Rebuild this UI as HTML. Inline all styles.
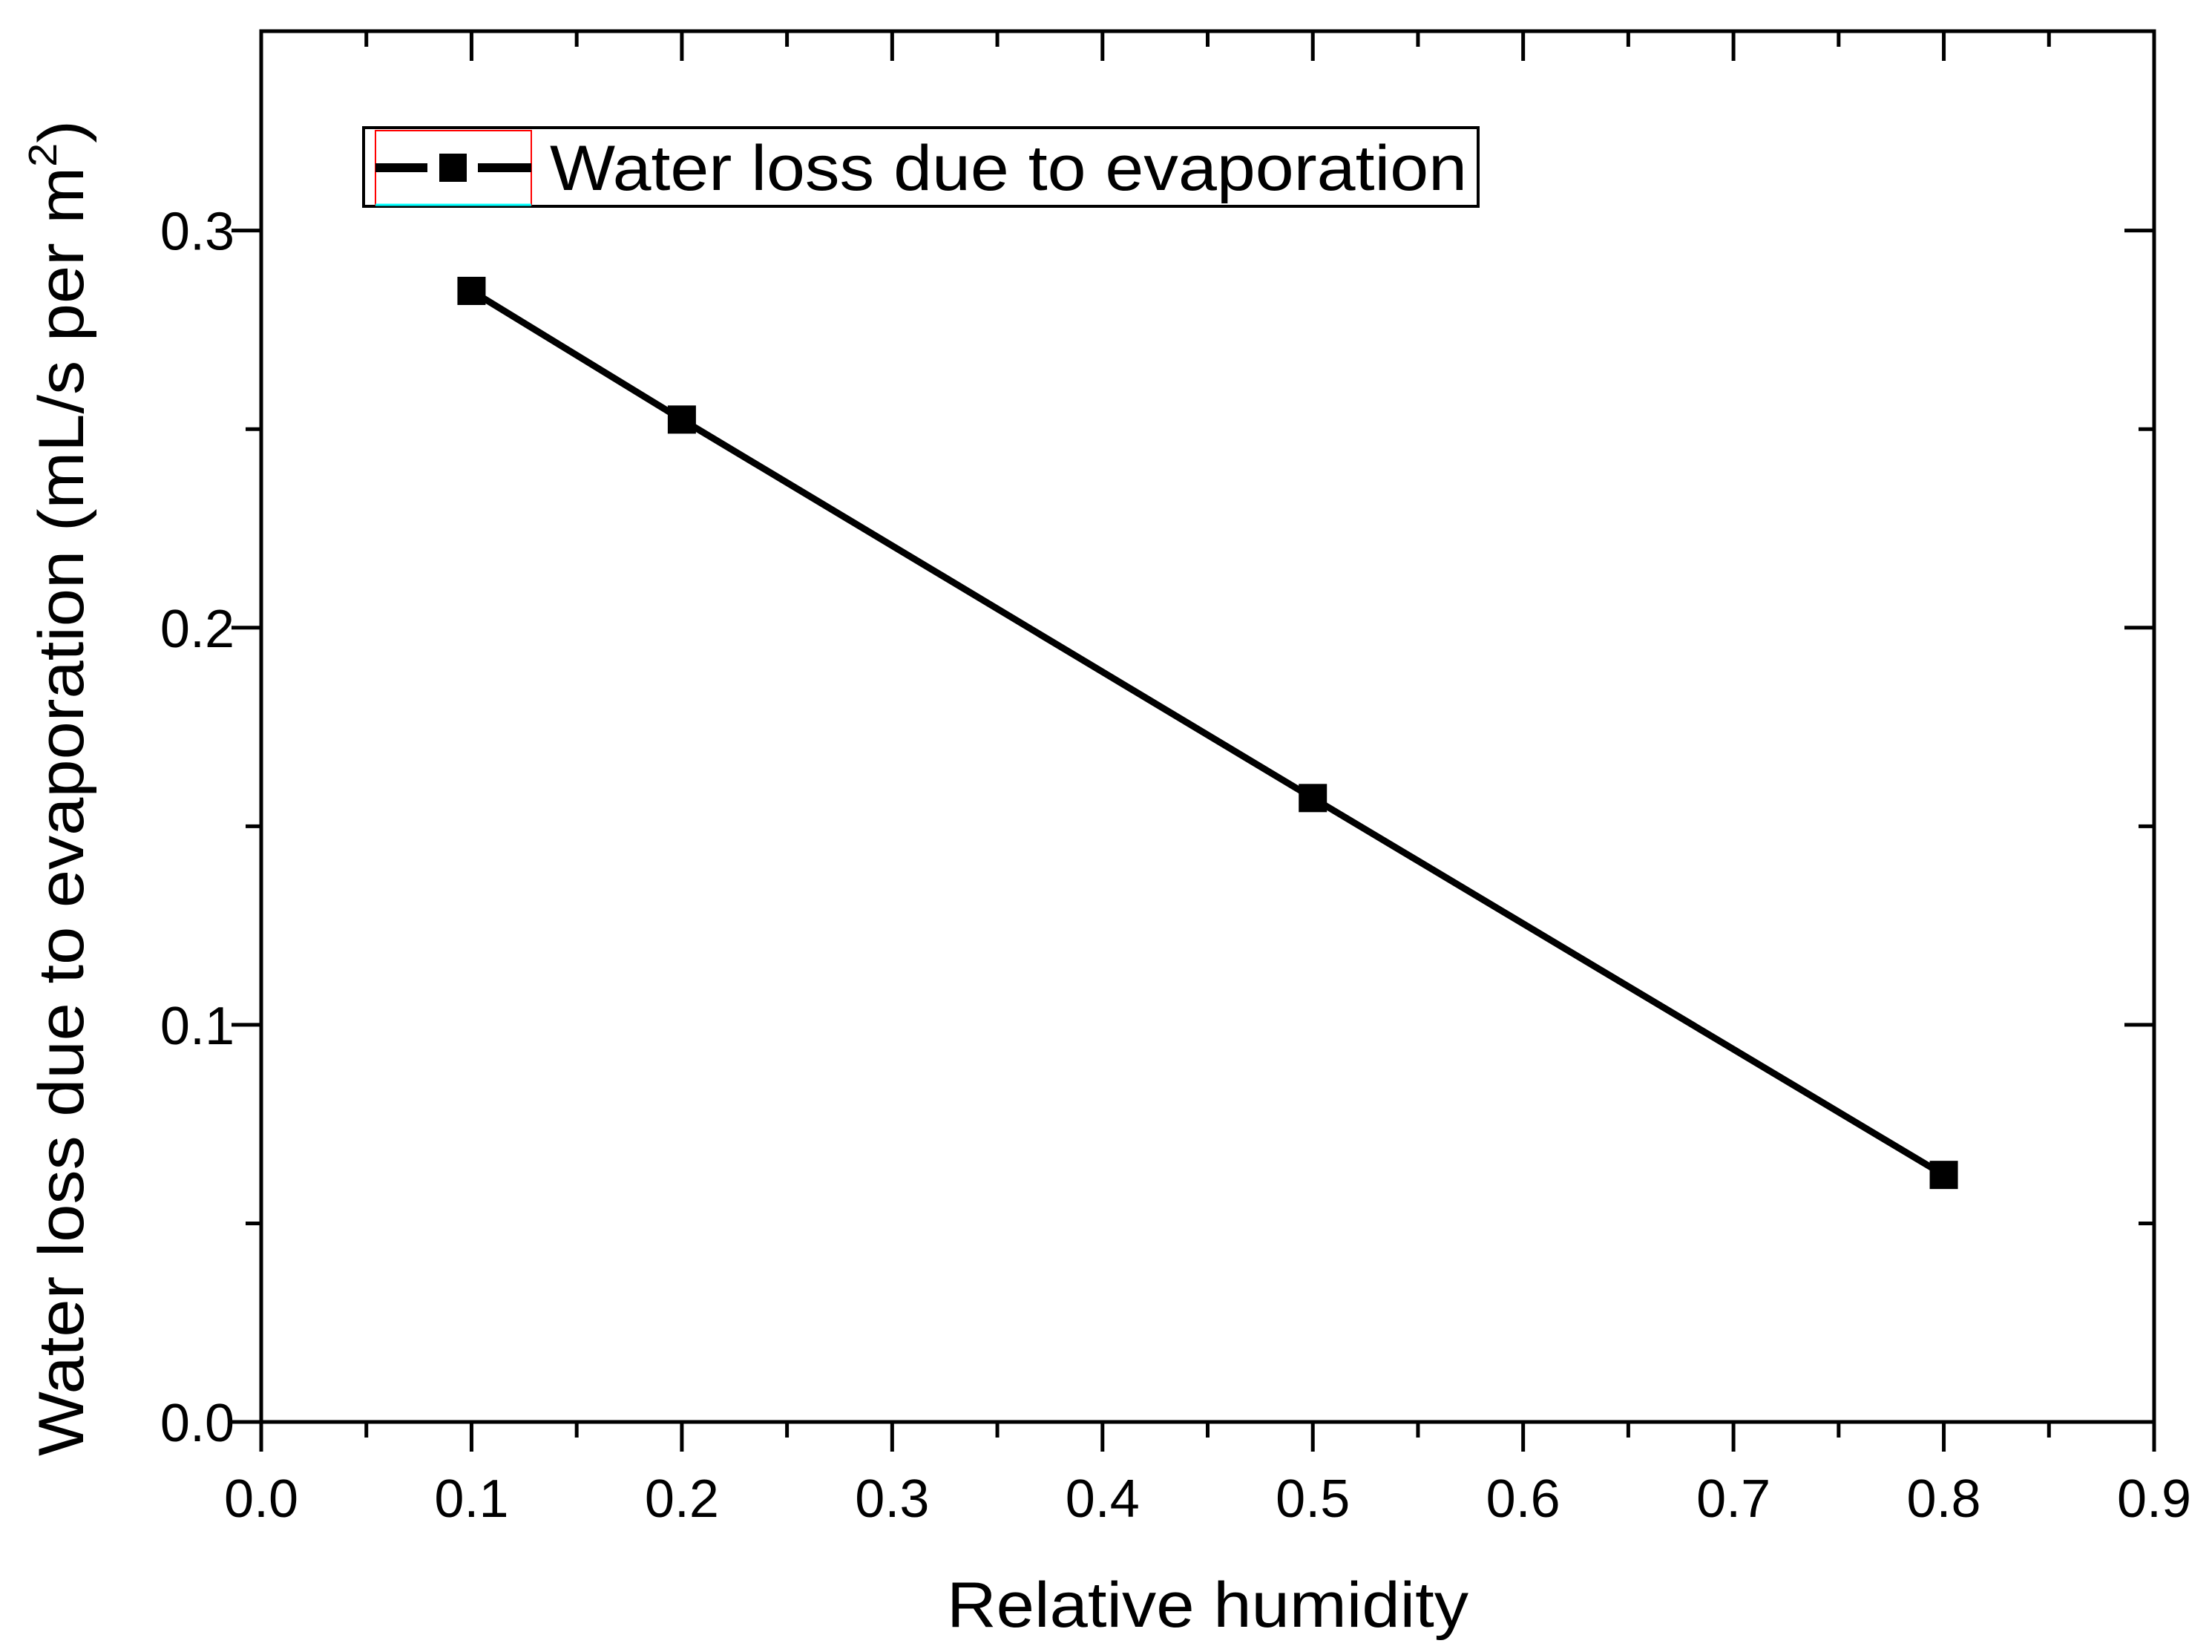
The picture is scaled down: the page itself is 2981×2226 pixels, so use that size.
<!DOCTYPE html>
<html><head><meta charset="utf-8"><style>
html,body{margin:0;padding:0;background:#fff;}
svg{display:block;font-family:"Liberation Sans",Arial,sans-serif;}
</style></head><body>
<svg id="chart" width="2981" height="2226" viewBox="0 0 2981 2226" xmlns="http://www.w3.org/2000/svg">
<rect x="0" y="0" width="2981" height="2226" fill="#fff"/>
<g id="axes"></g>
<g id="series"></g>
<g>
  <rect x="490" y="172" width="1502" height="106" fill="#fff" stroke="#000" stroke-width="4"/>
  <rect x="506" y="176" width="210" height="100" fill="none" stroke="#f00" stroke-width="2"/>
  <line x1="506" y1="276" x2="716" y2="276" stroke="#0ff" stroke-width="3"/>
  <line x1="506" y1="226" x2="576" y2="226" stroke="#000" stroke-width="12"/>
  <line x1="644" y1="226" x2="716" y2="226" stroke="#000" stroke-width="12"/>
  <rect x="592" y="207" width="37" height="38" fill="#000"/>
  <text x="741" y="256" font-size="86" fill="#000" textLength="1236" lengthAdjust="spacingAndGlyphs">Water loss due to evaporation</text>
</g>
<text x="1276" y="2192" font-size="86" textLength="703" lengthAdjust="spacingAndGlyphs">Relative humidity</text>
<text transform="translate(112,1062) rotate(-90)" font-size="86" text-anchor="middle" textLength="1800" lengthAdjust="spacingAndGlyphs">Water loss due to evaporation (mL/s per m<tspan font-size="54" dy="-36">2</tspan><tspan dy="36">)</tspan></text>
</svg>
<script>
const categories = [0.1, 0.2, 0.5, 0.8];
const values = [0.2848, 0.2524, 0.1571, 0.0622];
const xTicks = ["0.0","0.1","0.2","0.3","0.4","0.5","0.6","0.7","0.8","0.9"];
const yTicks = ["0.0","0.1","0.2","0.3"];

const L=352,R=2903,T=42,B=1916, XMAX=0.9, YMAX=0.3502;
const sx=v=>L+(R-L)*v/XMAX;
const sy=v=>B-(B-T)*v/YMAX;
const NS="http://www.w3.org/2000/svg";
function mk(tag,attrs,parent){const e=document.createElementNS(NS,tag);for(const k in attrs)e.setAttribute(k,attrs[k]);parent.appendChild(e);return e;}
const ax=document.getElementById('axes');
const frame=mk('rect',{x:L,y:T,width:R-L,height:B-T,fill:'none',stroke:'#000','stroke-width':5},ax);


for(let i=0;i<xTicks.length;i++){
  const v=parseFloat(xTicks[i]);const x=sx(v);
  const t=mk('line',{x1:x,y1:B,x2:x,y2:B+40,stroke:'#000','stroke-width':5},ax);
  
  
  const t2=mk('line',{x1:x,y1:T,x2:x,y2:T+40,stroke:'#000','stroke-width':5},ax);
  
  
  const lb=mk('text',{x:x,y:2044,'font-size':72,'text-anchor':'middle'},ax);
  lb.textContent=xTicks[i];
  
  
  if(i<xTicks.length-1){
    const xm=sx(v+0.05);
    const m=mk('line',{x1:xm,y1:B,x2:xm,y2:B+21,stroke:'#000','stroke-width':5},ax);
    
    
    const m2=mk('line',{x1:xm,y1:T,x2:xm,y2:T+21,stroke:'#000','stroke-width':5},ax);
    
    
  }
}
for(let i=0;i<yTicks.length;i++){
  const v=parseFloat(yTicks[i]);const y=sy(v);
  const t=mk('line',{x1:L-40,y1:y,x2:L,y2:y,stroke:'#000','stroke-width':5},ax);
  
  
  const t2=mk('line',{x1:R-40,y1:y,x2:R,y2:y,stroke:'#000','stroke-width':5},ax);
  
  
  const lb=mk('text',{x:316,y:y+26,'font-size':72,'text-anchor':'end'},ax);
  lb.textContent=yTicks[i];
  
  
  const ym=sy(v+0.05);
  if(ym>T+5){
    const m=mk('line',{x1:L-21,y1:ym,x2:L,y2:ym,stroke:'#000','stroke-width':5},ax);
    
    
    const m2=mk('line',{x1:R-21,y1:ym,x2:R,y2:ym,stroke:'#000','stroke-width':5},ax);
    
    
  }
}
const sg=document.getElementById('series');
const pts=categories.map((c,i)=>sx(c)+','+sy(values[i])).join(' ');
const pl=mk('polyline',{points:pts,fill:'none',stroke:'#000','stroke-width':9},sg);


categories.forEach((c,i)=>{
  const s=38;
  const r=mk('rect',{x:sx(c)-s/2,y:sy(values[i])-s/2,width:s,height:s,fill:'#000'},sg);
  
  
});
</script>
</body></html>
